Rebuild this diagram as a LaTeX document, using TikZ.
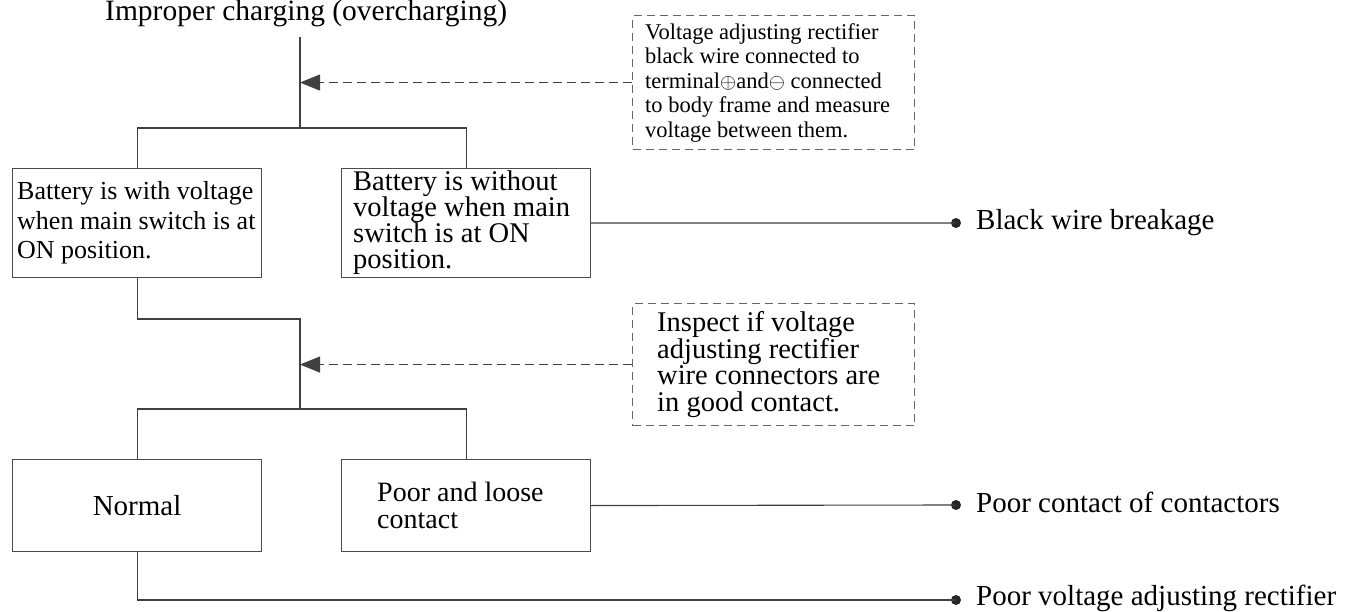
\documentclass[tikz,border=0pt]{standalone}
\usepackage{fontspec}
\setmainfont{Liberation Serif}
\usetikzlibrary{arrows.meta}
\begin{document}
\begin{tikzpicture}[x=1pt,y=-1pt,
  line/.style={draw=black!75,line width=1.1pt},
  box/.style={draw=black!70,line width=1.1pt,minimum width=249pt,inner sep=0pt,anchor=north west},
  dbox/.style={draw=black!60,line width=1.1pt,dash pattern=on 8pt off 5pt,minimum width=282pt,inner sep=0pt,anchor=north west},
  txt/.style={inner sep=0pt,align=left,anchor=west},
  dot/.style={circle,fill=black!85,minimum size=10pt,inner sep=0pt},
  lbl/.style={inner sep=0pt,anchor=base west,font=\fontsize{29}{32}\selectfont},
  hint/.style={draw=black!75,line width=1.1pt,dash pattern=on 9pt off 5pt,-{Triangle[length=20pt,width=16pt]}}
]
\useasboundingbox (0,0) rectangle (1361,612);
\fill[white] (0,0) rectangle (1361,612);

% title
\node[lbl,font=\fontsize{29.5}{32}\selectfont] (title) at (105,21) {Improper charging (overcharging)};
\coordinate (t0) at (300,37);
\coordinate (j1) at (300,128);
\coordinate (j2) at (300,319);
\coordinate (j3) at (300,409);

% first level boxes
\node[box,minimum height=109pt] (b1) at (12,168) {};
\node[txt,font=\fontsize{26}{29.5}\selectfont] (b1t) at ([xshift=5pt]b1.west)
  {Battery is with voltage\\when main switch is at\\ON position.};
\node[box,minimum height=109pt] (b2) at (341,168) {};
\node[txt,font=\fontsize{28.5}{26}\selectfont] (b2t) at ([xshift=12pt]b2.west)
  {Battery is without\\voltage when main\\switch is at ON\\position.};

% second level boxes
\node[box,minimum height=92pt,font=\fontsize{29}{32}\selectfont] (n1) at (12,459) {Normal};
\node[box,minimum height=92pt] (n2) at (341,459) {};
\node[txt,font=\fontsize{28}{27}\selectfont] (n2t) at ([xshift=36pt]n2.west)
  {Poor and loose\\contact};

% dashed inspection boxes
\node[dbox,minimum height=134pt] (d1) at (632,15) {};
\node[txt,font=\fontsize{22.5}{24.5}\selectfont] (d1t) at ([xshift=13pt]d1.west)
  {Voltage adjusting rectifier\\black wire connected to\\terminal$\oplus$and$\ominus$ connected\\to body frame and measure\\voltage between them.};
\node[dbox,minimum height=122pt] (d2) at (632,303) {};
\node[txt,font=\fontsize{28.5}{26.5}\selectfont] (d2t) at ([xshift=25pt]d2.west)
  {Inspect if voltage\\adjusting rectifier\\wire connectors are\\in good contact.};

% result dots and labels
\node[dot] (r1) at (956,223) {};
\node[dot] (r2) at (956,505) {};
\node[dot] (r3) at (956,600) {};
\node[lbl] (l1) at (976,230) {Black wire breakage};
\node[lbl] (l2) at (976,512) {Poor contact of contactors};
\node[lbl] (l3) at (976,605) {Poor voltage adjusting rectifier};

% connectors
\draw[line] (t0) -- (j1);
\draw[line] (b1.north) |- (j1) -| (b2.north);
\draw[line] (b1.south) |- (j2) -- (j3);
\draw[line] (n1.north) |- (j3) -| (n2.north);
\draw[line] (b2.east) -- (r1.center);
\draw[line] (n2.east) -- (r2.center);
\draw[line] (n1.south) |- (r3.center);

% dashed arrows
\draw[hint] (d1.west) -- (d1.west -| t0);
\draw[hint] (d2.west) -- (d2.west -| t0);
\end{tikzpicture}
\end{document}
